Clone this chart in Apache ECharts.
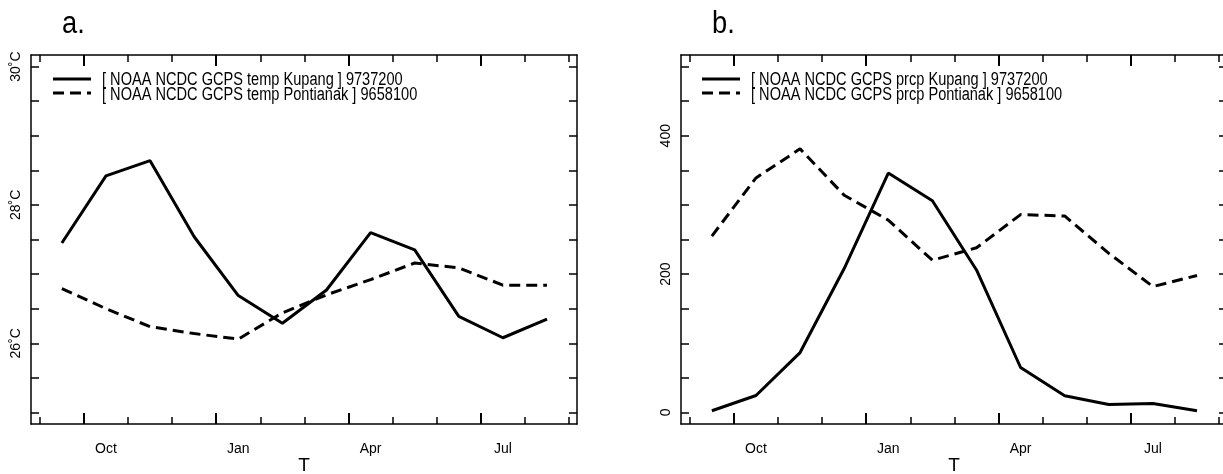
<!DOCTYPE html>
<html>
<head>
<meta charset="utf-8">
<script src="https://cdn.jsdelivr.net/npm/echarts@6/dist/echarts.min.js"></script>
<style>
  html, body { margin: 0; padding: 0; background: #fff; }
  #chart { width: 1223px; height: 474px; }
</style>
</head>
<body>
<div id="chart"></div>
<script>
// Monthly climatology, September through August
const months = ['Sep', 'Oct', 'Nov', 'Dec', 'Jan', 'Feb', 'Mar', 'Apr', 'May', 'Jun', 'Jul', 'Aug'];

// Mean temperature (deg C)
const tempKupang    = [27.45, 28.42, 28.64, 27.54, 26.69, 26.29, 26.77, 27.60, 27.35, 26.39, 26.08, 26.35];
const tempPontianak = [26.79, 26.50, 26.24, 26.14, 26.06, 26.44, 26.70, 26.92, 27.16, 27.09, 26.84, 26.84];

// Mean precipitation (mm/month)
const prcpKupang    = [2.5, 24.5, 86.6, 208, 346, 306, 206, 65, 24.1, 11.6, 13, 2.5];
const prcpPontianak = [255, 339, 381, 314, 278, 220, 238, 286, 284, 230, 182, 198];

const seriesNames = [
  '[ NOAA NCDC GCPS temp Kupang ] 9737200',
  '[ NOAA NCDC GCPS temp Pontianak ] 9658100',
  '[ NOAA NCDC GCPS prcp Kupang ] 9737200',
  '[ NOAA NCDC GCPS prcp Pontianak ] 9658100'
];

// Axis ticks and labels
const xLabelMonths = ['Oct', 'Jan', 'Apr', 'Jul'];
const tempTicks = [25, 25.5, 26, 26.5, 27, 27.5, 28, 28.5, 29, 29.5, 30];
const tempLabels = [26, 28, 30];
const prcpTicks = [0, 50, 100, 150, 200, 250, 300, 350, 400, 450, 500];
const prcpLabels = [0, 200, 400];

// Month k spans [k, k+1] on the value axis; values sit mid-month
const monthEdges = months.map((m, i) => i).concat([months.length]);
const monthMid = i => i + 0.5;
const labelPos = xLabelMonths.map(m => monthMid(months.indexOf(m)));
const majorEdges = xLabelMonths.map(m => months.indexOf(m));

const X_MIN = -0.2, X_MAX = 12.18;
const FONT = "'Liberation Sans', Arial, sans-serif";
const INK = '#000';
const DASH = [11, 6];

function toPairs(vals) { return vals.map((v, i) => [monthMid(i), v]); }

function xAxesFor(gridIndex) {
  const base = {
    gridIndex, type: 'value', min: X_MIN, max: X_MAX,
    splitLine: { show: false },
    axisLine: { show: true, onZero: false, lineStyle: { color: INK, width: 1.5 } }
  };
  const noLine = { show: false, onZero: false };
  return [
    Object.assign({}, base, {
      position: 'bottom',
      axisTick: { show: true, inside: true, length: 7, customValues: monthEdges, lineStyle: { color: INK, width: 1.5 } },
      axisLabel: {
        show: true, customValues: labelPos, margin: 18,
        formatter: v => xLabelMonths[labelPos.indexOf(v)] || '',
        color: INK, fontSize: 14, fontFamily: FONT
      },
      name: 'T', nameLocation: 'middle', nameGap: 32, nameMoveOverlap: false,
      nameTextStyle: { color: INK, fontSize: 19, fontFamily: FONT }
    }),
    Object.assign({}, base, {
      position: 'bottom', axisLine: noLine,
      axisTick: { show: true, inside: true, length: 11, customValues: majorEdges, lineStyle: { color: INK, width: 2 } },
      axisLabel: { show: false }
    }),
    Object.assign({}, base, {
      position: 'top',
      axisTick: { show: true, inside: true, length: 7, customValues: monthEdges, lineStyle: { color: INK, width: 1.5 } },
      axisLabel: { show: false }
    }),
    Object.assign({}, base, {
      position: 'top', axisLine: noLine,
      axisTick: { show: true, inside: true, length: 11, customValues: majorEdges, lineStyle: { color: INK, width: 2 } },
      axisLabel: { show: false }
    })
  ];
}

function yAxesFor(gridIndex, ticks, labels, min, max, fmt) {
  const base = {
    gridIndex, type: 'value', min, max,
    splitLine: { show: false },
    axisLine: { show: true, onZero: false, lineStyle: { color: INK, width: 1.5 } },
    axisTick: { show: true, inside: true, length: 8, customValues: ticks, lineStyle: { color: INK, width: 1.5 } }
  };
  return [
    Object.assign({}, base, {
      position: 'left',
      axisLabel: {
        show: true, customValues: labels, rotate: 90, margin: 8,
        formatter: fmt, color: INK, fontSize: 14, fontFamily: FONT
      }
    }),
    Object.assign({}, base, { position: 'right', axisLabel: { show: false } })
  ];
}

const solid = { color: INK, width: 3, type: 'solid' };
const dashed = { color: INK, width: 3, type: DASH };

function lineSeries(name, vals, xi, yi, style) {
  return {
    type: 'line', name, data: toPairs(vals), xAxisIndex: xi, yAxisIndex: yi,
    symbol: 'none', lineStyle: style, itemStyle: { color: INK }, silent: true
  };
}

// Key in the upper-left corner of a panel: a line sample and a condensed label per series
function keyFor(left, names) {
  const rows = [
    { y: 79, ty: 80, dash: null },
    { y: 93, ty: 95, dash: DASH }
  ];
  const els = [];
  names.forEach((name, i) => {
    const r = rows[i];
    els.push({
      type: 'line', silent: true,
      shape: { x1: left, y1: r.y, x2: left + 38, y2: r.y },
      style: { stroke: INK, lineWidth: 3, lineDash: r.dash }
    });
    els.push({
      type: 'text', silent: true, x: left + 49, y: r.ty, scaleX: 0.81,
      style: { text: name, fill: INK, fontSize: 18, fontFamily: FONT, verticalAlign: 'middle', align: 'left' }
    });
  });
  return els;
}

function panelTitle(text, left) {
  return {
    type: 'text', silent: true, x: left, y: 24, scaleX: 0.88,
    style: { text, fill: INK, fontSize: 31, fontFamily: FONT, verticalAlign: 'middle', align: 'left' }
  };
}

const chart = echarts.init(document.getElementById('chart'), null, { renderer: 'canvas' });
chart.setOption({
  animation: false,
  backgroundColor: '#fff',
  grid: [
    { left: 31, top: 55, width: 546, height: 369, outerBoundsMode: 'none', containLabel: false },
    { left: 681, top: 55, width: 546, height: 369, outerBoundsMode: 'none', containLabel: false }
  ],
  xAxis: xAxesFor(0).concat(xAxesFor(1)),
  yAxis: yAxesFor(0, tempTicks, tempLabels, 24.8333, 30.1667, v => v + '˚C')
    .concat(yAxesFor(1, prcpTicks, prcpLabels, -16.667, 516.667, v => String(v))),
  series: [
    lineSeries(seriesNames[0], tempKupang, 0, 0, solid),
    lineSeries(seriesNames[1], tempPontianak, 0, 0, dashed),
    lineSeries(seriesNames[2], prcpKupang, 4, 2, solid),
    lineSeries(seriesNames[3], prcpPontianak, 4, 2, dashed)
  ],
  graphic: [
    panelTitle('a.', 62),
    panelTitle('b.', 712)
  ].concat(keyFor(53, seriesNames.slice(0, 2)), keyFor(702, seriesNames.slice(2, 4)))
});
</script>
</body>
</html>
